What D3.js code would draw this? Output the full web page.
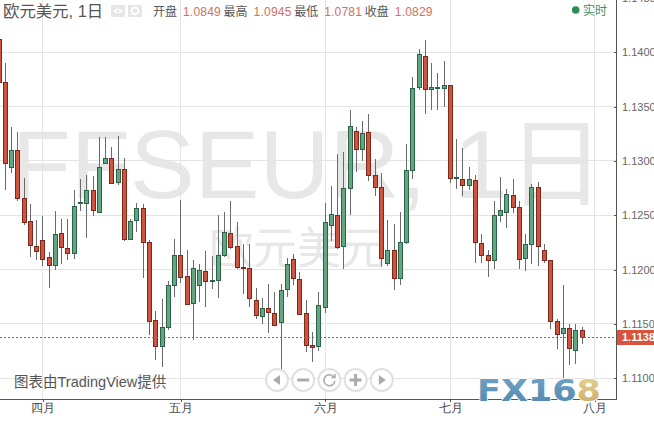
<!DOCTYPE html>
<html>
<head>
<meta charset="utf-8">
<script src="https://cdn.jsdelivr.net/npm/d3@7"></script>
<style>
  html, body { margin: 0; padding: 0; background: #fff; overflow: hidden; }
  svg { display: block; font-family: "Liberation Sans", "Noto Sans CJK SC", sans-serif; }
</style>
</head>
<body>
<div id="chart"></div>
<script>
const opens = [
  1.1412, 1.1372, 1.1294, 1.1310, 1.1265, 1.1244, 1.1221, 1.1227, 1.1211, 1.1204,
  1.1233, 1.1219, 1.1215, 1.1261, 1.1261, 1.1273, 1.1253, 1.1298, 1.1302, 1.1280,
  1.1292, 1.1228, 1.1245, 1.1256, 1.1225, 1.1153, 1.1129, 1.1147, 1.1185, 1.1213,
  1.1194, 1.1169, 1.1185, 1.1198, 1.1189, 1.1190, 1.1213, 1.1233, 1.1221, 1.1202,
  1.1201, 1.1172, 1.1157, 1.1164, 1.1160, 1.1151, 1.1182, 1.1209, 1.1191, 1.1160,
  1.1130, 1.1129, 1.1165, 1.1241, 1.1250, 1.1221, 1.1275, 1.1327, 1.1311, 1.1326,
  1.1287, 1.1276, 1.1206, 1.1218, 1.1192, 1.1225, 1.1291, 1.1368, 1.1396, 1.1366,
  1.1367, 1.1367, 1.1369, 1.1284, 1.1283, 1.1277, 1.1282, 1.1224, 1.1213, 1.1208,
  1.1250, 1.1253, 1.1268, 1.1257, 1.1210, 1.1223, 1.1276, 1.1218, 1.1208, 1.1152,
  1.1141, 1.1146, 1.1126, 1.1144
]
const highs = [
  1.1413, 1.1390, 1.1331, 1.1327, 1.1284, 1.1260, 1.1246, 1.1249, 1.1216, 1.1254,
  1.1247, 1.1247, 1.1273, 1.1283, 1.1287, 1.1286, 1.1322, 1.1322, 1.1313, 1.1323,
  1.1303, 1.1247, 1.1261, 1.1260, 1.1227, 1.1162, 1.1173, 1.1190, 1.1228, 1.1264,
  1.1218, 1.1209, 1.1205, 1.1217, 1.1213, 1.1250, 1.1253, 1.1263, 1.1244, 1.1224,
  1.1224, 1.1183, 1.1174, 1.1187, 1.1179, 1.1187, 1.1211, 1.1214, 1.1198, 1.1172,
  1.1143, 1.1179, 1.1261, 1.1277, 1.1306, 1.1308, 1.1347, 1.1331, 1.1337, 1.1343,
  1.1302, 1.1289, 1.1246, 1.1242, 1.1253, 1.1316, 1.1377, 1.1403, 1.1411, 1.1390,
  1.1381, 1.1392, 1.1370, 1.1320, 1.1312, 1.1294, 1.1287, 1.1233, 1.1218, 1.1263,
  1.1285, 1.1274, 1.1283, 1.1263, 1.1233, 1.1279, 1.1281, 1.1224, 1.1209, 1.1155,
  1.1186, 1.1150, 1.1150, 1.1147
]
const lows = [
  1.1371, 1.1273, 1.1289, 1.1263, 1.1241, 1.1212, 1.1209, 1.1203, 1.1183, 1.1200,
  1.1205, 1.1209, 1.1210, 1.1254, 1.1229, 1.1249, 1.1252, 1.1297, 1.1279, 1.1278,
  1.1226, 1.1227, 1.1235, 1.1192, 1.1140, 1.1117, 1.1110, 1.1144, 1.1175, 1.1188,
  1.1167, 1.1135, 1.1170, 1.1166, 1.1182, 1.1174, 1.1212, 1.1219, 1.1201, 1.1178,
  1.1166, 1.1155, 1.1150, 1.1142, 1.1148, 1.1107, 1.1175, 1.1186, 1.1158, 1.1124,
  1.1115, 1.1125, 1.1160, 1.1226, 1.1219, 1.1201, 1.1250, 1.1290, 1.1300, 1.1282,
  1.1268, 1.1202, 1.1203, 1.1181, 1.1186, 1.1224, 1.1283, 1.1365, 1.1343, 1.1347,
  1.1347, 1.1350, 1.1280, 1.1274, 1.1268, 1.1273, 1.1206, 1.1206, 1.1193, 1.1201,
  1.1244, 1.1238, 1.1252, 1.1201, 1.1199, 1.1205, 1.1203, 1.1206, 1.1145, 1.1127,
  1.1100, 1.1112, 1.1113, 1.1132
]
const closes = [
  1.1372, 1.1298, 1.1310, 1.1265, 1.1243, 1.1222, 1.1217, 1.1209, 1.1204, 1.1232,
  1.1220, 1.1215, 1.1258, 1.1262, 1.1273, 1.1254, 1.1294, 1.1302, 1.1279, 1.1292,
  1.1228, 1.1244, 1.1256, 1.1225, 1.1152, 1.1129, 1.1147, 1.1185, 1.1213, 1.1193,
  1.1168, 1.1201, 1.1199, 1.1189, 1.1190, 1.1213, 1.1234, 1.1220, 1.1202, 1.1201,
  1.1173, 1.1158, 1.1164, 1.1161, 1.1149, 1.1181, 1.1205, 1.1192, 1.1159, 1.1130,
  1.1128, 1.1167, 1.1243, 1.1251, 1.1220, 1.1275, 1.1332, 1.1311, 1.1325, 1.1287,
  1.1276, 1.1210, 1.1218, 1.1192, 1.1225, 1.1291, 1.1367, 1.1398, 1.1366, 1.1368,
  1.1368, 1.1369, 1.1284, 1.1285, 1.1277, 1.1283, 1.1225, 1.1213, 1.1208, 1.1250,
  1.1254, 1.1269, 1.1257, 1.1209, 1.1223, 1.1276, 1.1221, 1.1208, 1.1152, 1.1140,
  1.1146, 1.1127, 1.1144, 1.1138
]

const priceTicks = [1.11, 1.115, 1.12, 1.125, 1.13, 1.135, 1.14, 1.145]
const monthBars = [7, 29, 52, 72, 95]
const monthLabels = ['四月', '五月', '六月', '七月', '八月']
const lastPrice = 1.1138
const headerItems = [
  ['开盘', '1.0849'],
  ['最高', '1.0945'],
  ['最低', '1.0781'],
  ['收盘', '1.0829']
]

const width = 654
const height = 423
const plotRight = 616
const plotBottom = 399

const bars = opens.map((o, i) => ({ i, o, h: highs[i], l: lows[i], c: closes[i] }))

const svg = d3.select('#chart').append('svg').attr('width', width).attr('height', height)

const xRaw = d3.scaleLinear().domain([0, 100]).range([-1, 626])
const yScale = d3.scaleLinear().domain([1.11, 1.14]).range([378.3, 52.3])
const xPos = (i) => Math.floor(xRaw(i)) + 0.5
const yPos = (v) => Math.floor(yScale(v)) + 0.5

// watermark
const watermark = svg.append('g').attr('fill', '#e7e7e7').attr('text-anchor', 'middle')
watermark.append('text').attr('x', 308).attr('y', 198).attr('font-size', 97).text('FFSEUR, 1日')
watermark.append('text').attr('x', 297).attr('y', 264).attr('font-size', 44).text('欧元美元')

// grid
const grid = svg.append('g').attr('stroke', '#e4e4e4').attr('shape-rendering', 'crispEdges')
grid
  .selectAll('.h')
  .data(priceTicks.filter((d) => d < 1.145))
  .join('line')
  .attr('x1', 0)
  .attr('x2', plotRight)
  .attr('y1', yPos)
  .attr('y2', yPos)
grid
  .selectAll('.v')
  .data(monthBars)
  .join('line')
  .attr('x1', xPos)
  .attr('x2', xPos)
  .attr('y1', 0)
  .attr('y2', plotBottom)

// candles
const candles = svg.append('g').selectAll('g').data(bars).join('g')

candles
  .append('line')
  .attr('x1', (d) => xPos(d.i))
  .attr('x2', (d) => xPos(d.i))
  .attr('y1', (d) => yScale(d.h))
  .attr('y2', (d) => yScale(d.l))
  .attr('stroke', '#6b6b6b')
  .attr('shape-rendering', 'crispEdges')

candles
  .append('rect')
  .attr('x', (d) => xPos(d.i) - 2)
  .attr('width', 4)
  .attr('y', (d) => yPos(Math.max(d.o, d.c)))
  .attr('height', (d) => Math.max(1, yPos(Math.min(d.o, d.c)) - yPos(Math.max(d.o, d.c))))
  .attr('fill', (d) => (d.c >= d.o ? '#64a680' : '#cf543f'))
  .attr('stroke', (d) => (d.c >= d.o ? '#2b634a' : '#7f2719'))

// last price line
svg
  .append('line')
  .attr('x1', 0)
  .attr('x2', plotRight)
  .attr('y1', yPos(lastPrice))
  .attr('y2', yPos(lastPrice))
  .attr('stroke', '#b9503c')
  .attr('stroke-dasharray', '2,2')
  .attr('shape-rendering', 'crispEdges')

// axes
const yAxis = d3.axisRight(yScale).tickValues(priceTicks).tickFormat(d3.format('.4f')).tickSize(-2).tickPadding(6)
svg
  .append('g')
  .attr('transform', `translate(${plotRight}, 0)`)
  .call(yAxis)
  .call((g) => g.select('.domain').remove())
  .call((g) => g.selectAll('line').attr('stroke', '#555').attr('shape-rendering', 'crispEdges'))
  .call((g) => g.selectAll('text').attr('fill', '#666').attr('font-size', 11).attr('font-family', null))

const xAxis = d3
  .axisBottom(xRaw)
  .tickValues(monthBars)
  .tickFormat((d, i) => monthLabels[i])
  .tickSize(3)
  .tickPadding(2)
svg
  .append('g')
  .attr('transform', `translate(0, ${plotBottom})`)
  .call(xAxis)
  .call((g) => g.select('.domain').remove())
  .call((g) => g.selectAll('line').attr('stroke', '#555').attr('shape-rendering', 'crispEdges'))
  .call((g) => g.selectAll('text').attr('fill', '#444').attr('font-size', 11.5).attr('font-family', null))

svg
  .append('path')
  .attr('d', `M${plotRight + 0.5},0V${plotBottom + 0.5}H0`)
  .attr('fill', 'none')
  .attr('stroke', '#555')
  .attr('stroke-width', 1.2)
  .attr('shape-rendering', 'crispEdges')

// last price tag
const tag = svg.append('g').attr('transform', `translate(${plotRight + 1}, ${yPos(lastPrice)})`)
tag.append('rect').attr('x', 0).attr('y', -7.5).attr('width', 38).attr('height', 15).attr('fill', '#d8523c')
tag
  .append('text')
  .attr('x', 5)
  .attr('dy', '0.35em')
  .attr('fill', '#fff')
  .attr('font-size', 11)
  .attr('font-weight', 'bold')
  .text(d3.format('.4f')(lastPrice))

// header
svg
  .append('text')
  .attr('x', 3)
  .attr('y', 16.5)
  .attr('font-size', 16.4)
  .attr('fill', '#555')
  .text('欧元美元, 1日')

const header = svg
  .append('g')
  .selectAll('g')
  .data(headerItems)
  .join('g')
  .attr('transform', (d, i) => `translate(${153 + i * 70.6}, 16)`)
header.append('text').attr('fill', '#555').attr('font-size', 12).text((d) => d[0])
header.append('text').attr('x', 30).attr('fill', '#cf6f5e').attr('font-size', 12).attr('letter-spacing', 0.2).text((d) => d[1])

// eye and gear buttons
const iconBoxes = svg.append('g')
iconBoxes.append('rect').attr('x', 111).attr('y', 5).attr('width', 14).attr('height', 12).attr('fill', '#e6e6e6')
iconBoxes.append('rect').attr('x', 128).attr('y', 5).attr('width', 14).attr('height', 12).attr('fill', '#e6e6e6')
iconBoxes
  .append('path')
  .attr('d', 'M113,11Q118,6 123,11Q118,16 113,11Z')
  .attr('fill', '#fff')
iconBoxes.append('circle').attr('cx', 118).attr('cy', 11).attr('r', 1.6).attr('fill', '#e6e6e6')
iconBoxes.append('circle').attr('cx', 135).attr('cy', 11).attr('r', 3.4).attr('fill', 'none').attr('stroke', '#fff').attr('stroke-width', 2)

// realtime flag
svg.append('circle').attr('cx', 575.7).attr('cy', 10).attr('r', 3.8).attr('fill', '#2e8b57')
svg.append('text').attr('x', 583).attr('y', 14.5).attr('font-size', 12).attr('fill', '#3f8f68').text('实时')

// credit
svg.append('text').attr('x', 14).attr('y', 387).attr('font-size', 14.5).attr('fill', '#555').text('图表由TradingView提供')

// zoom buttons
const buttonGlyphs = [
  'M-4,0L3,-5V5Z',
  'M-6,-1.5H6V1.5H-6Z',
  '',
  'M-6,-1.5H-1.5V-6H1.5V-1.5H6V1.5H1.5V6H-1.5V1.5H-6Z',
  'M4,0L-3,-5V5Z'
]
const buttons = svg
  .append('g')
  .selectAll('g')
  .data(buttonGlyphs)
  .join('g')
  .attr('transform', (d, i) => `translate(${277 + i * 26.2}, 380)`)
buttons.append('circle').attr('r', 11).attr('fill', '#fff').attr('stroke', '#e0e0e0').attr('stroke-width', 2)
buttons.append('path').attr('d', (d) => d).attr('fill', '#ababab')
svg
  .append('path')
  .attr('transform', `translate(${277 + 2 * 26.2}, 380)`)
  .attr('d', 'M4.5,-3A5.5,5.5 0 1 0 5.5,1M5.5,-6V-2.5H2')
  .attr('fill', 'none')
  .attr('stroke', '#ababab')
  .attr('stroke-width', 1.6)

// logo
const defs = svg.append('defs')
const logoBlue = defs.append('linearGradient').attr('id', 'logoBlue').attr('x1', 0).attr('x2', 0).attr('y1', 0).attr('y2', 1)
logoBlue.append('stop').attr('offset', 0).attr('stop-color', '#74a6c8')
logoBlue.append('stop').attr('offset', 1).attr('stop-color', '#4f86ad')
const logoGold = defs.append('linearGradient').attr('id', 'logoGold').attr('x1', 0).attr('x2', 0).attr('y1', 0).attr('y2', 1)
logoGold.append('stop').attr('offset', 0).attr('stop-color', '#ead796')
logoGold.append('stop').attr('offset', 1).attr('stop-color', '#c9a864')
const logo = svg
  .append('text')
  .attr('x', 477)
  .attr('y', 401)
  .attr('font-size', 31)
  .attr('font-weight', 'bold')
  .attr('font-family', '"DejaVu Sans"')
  .attr('textLength', 124)
  .attr('lengthAdjust', 'spacingAndGlyphs')
  .attr('stroke', '#fff')
  .attr('stroke-width', 1.5)
  .attr('paint-order', 'stroke')
logo.append('tspan').attr('fill', 'url(#logoBlue)').text('FX16')
logo.append('tspan').attr('fill', 'url(#logoGold)').text('8')
</script>
</body>
</html>
